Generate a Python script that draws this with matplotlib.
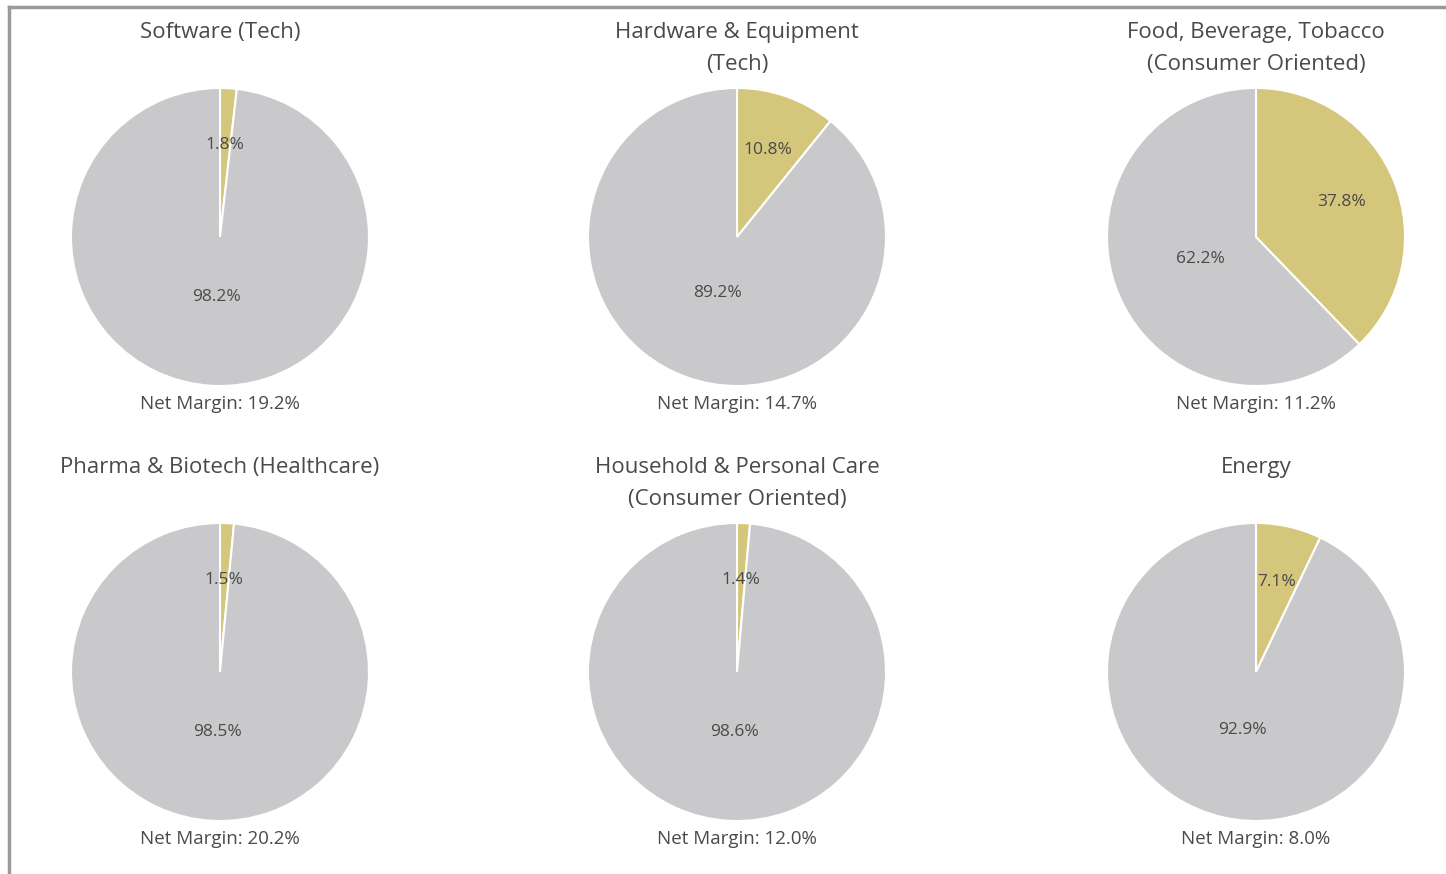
import matplotlib
matplotlib.use("Agg")
import matplotlib.pyplot as plt
from matplotlib.lines import Line2D
import numpy as np

plt.rcParams['font.family'] = ['Open Sans', 'DejaVu Sans']

titles = ["Software (Tech)", "Hardware & Equipment\n(Tech)",
          "Food, Beverage, Tobacco\n(Consumer Oriented)",
          "Pharma & Biotech (Healthcare)", "Household & Personal Care\n(Consumer Oriented)",
          "Energy"]
share_gold = [1.8, 10.8, 37.8, 1.5, 1.4, 7.1]
share_gray = [98.2, 89.2, 62.2, 98.5, 98.6, 92.9]
net_margin = ["19.2%", "14.7%", "11.2%", "20.2%", "12.0%", "8.0%"]

GOLD = "#d4c67a"
GRAY = "#c9c9cb"
TXT = "#4a4a4a"

W, H = 1446, 874
fig = plt.figure(figsize=(W / 100, H / 100), dpi=100)

centers_x = [220, 737, 1256]
centers_y = [237, 672]
R = 149

for i in range(6):
    cx = centers_x[i % 3]
    cy = centers_y[i // 3]
    ax = fig.add_axes([(cx - R) / W, 1 - (cy + R) / H, 2 * R / W, 2 * R / H])
    vals = [share_gold[i], share_gray[i]]
    wedges, _ = ax.pie(vals, colors=[GOLD, GRAY], startangle=90, counterclock=False,
                       radius=1.0, wedgeprops=dict(edgecolor="white", linewidth=1.5))
    ax.set_xlim(-1, 1)
    ax.set_ylim(-1, 1)
    ax.set_aspect('equal')
    ax.axis('off')
    dists = [0.62, 0.4]
    for w, v, d in zip(wedges, vals, dists):
        ang = np.deg2rad((w.theta1 + w.theta2) / 2)
        ax.text(d * np.cos(ang), d * np.sin(ang), f"{v:.1f}%", ha='center', va='center',
                fontsize=12.5, color=TXT)
    # title
    fig.text(cx / W, 1 - (cy - 215) / H, titles[i], ha='center', va='top',
             fontsize=16, color=TXT, linespacing=1.7)
    fig.text(cx / W, 1 - (cy + 167) / H, f"Net Margin: {net_margin[i]}", ha='center',
             va='center', fontsize=13.5, color=TXT)

# border lines (top and left)
fig.add_artist(Line2D([9 / W, 1], [1 - 7 / H, 1 - 7 / H], transform=fig.transFigure,
                      color="#9a9a9a", linewidth=2.5))
fig.add_artist(Line2D([9 / W, 9 / W], [0, 1 - 7 / H], transform=fig.transFigure,
                      color="#9a9a9a", linewidth=2.5))

fig.savefig("out.png", dpi=100)
